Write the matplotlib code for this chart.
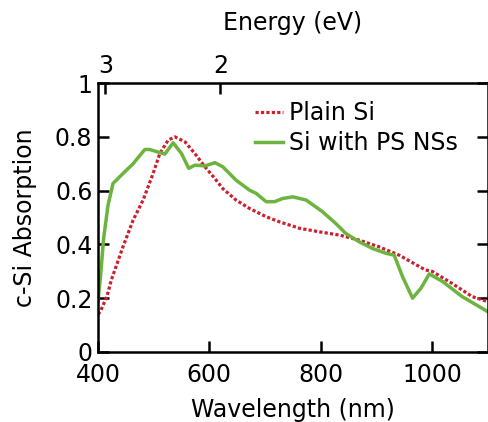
#c-Si absorption, plain vs with PS nanostructures
import numpy as np
import matplotlib.pyplot as plt

#data
wl_plain = [400, 404, 416, 424, 445, 463, 481, 499, 511, 526, 538, 556, 574, 592, 610, 624, 648,
            672, 702, 726, 762, 797, 833, 869, 905, 941, 988, 1000, 1036, 1072, 1100]
abs_plain = [0.14, 0.15, 0.206, 0.268, 0.392, 0.49, 0.565, 0.664, 0.738, 0.788, 0.80, 0.782, 0.738,
             0.689, 0.645, 0.608, 0.565, 0.534, 0.503, 0.484, 0.46, 0.447, 0.435, 0.416, 0.391,
             0.36, 0.305, 0.30, 0.255, 0.206, 0.187]

wl_ps = [400, 404, 410, 418, 427, 445, 463, 484, 493, 520, 535, 550, 563, 574, 592, 610, 624, 648,
         672, 684, 702, 717, 732, 750, 774, 803, 827, 845, 869, 893, 917, 932, 947, 965, 980,
         995, 1019, 1054, 1100]
abs_ps = [0.19, 0.268, 0.42, 0.546, 0.627, 0.664, 0.70, 0.753, 0.753, 0.736, 0.778, 0.738, 0.683,
          0.695, 0.692, 0.704, 0.689, 0.639, 0.602, 0.59, 0.559, 0.559, 0.571, 0.577, 0.565,
          0.522, 0.478, 0.441, 0.41, 0.385, 0.367, 0.36, 0.28, 0.2, 0.237, 0.29, 0.262, 0.206, 0.15]

x_ticks = [400, 600, 800, 1000]
y_ticks = [0, 0.2, 0.4, 0.6, 0.8, 1]
y_labels = ['0', '0.2', '0.4', '0.6', '0.8', '1']
ev_ticks = [3, 2]

plt.rcParams['font.family'] = 'DejaVu Sans'
plt.rcParams['font.size'] = 17

fig = plt.figure(figsize=(4.89, 4.22), dpi=100)
ax = fig.add_axes([0.2004, 0.166, 0.797, 0.637])

ax.plot(wl_plain, abs_plain, color='#cc1f2b', linestyle=(0, (1, 0.7)), linewidth=2.3, label='Plain Si')
ax.plot(wl_ps, abs_ps, color='#6db33f', linewidth=2.5, label='Si with PS NSs')

ax.set_xlim(400, 1100)
ax.set_ylim(0, 1)
ax.set_xticks(x_ticks)
ax.set_yticks(y_ticks)
ax.set_yticklabels(y_labels)
ax.set_xlabel('Wavelength (nm)', labelpad=8)
ax.set_ylabel('c-Si Absorption', labelpad=13)

ax.tick_params(axis='x', direction='in', length=8, width=1.8, pad=8)
ax.tick_params(axis='y', direction='in', length=8, width=1.8, right=True, pad=4)
for s in ax.spines.values():
    s.set_linewidth(1.8)

#energy axis on top
top = ax.secondary_xaxis('top', functions=(lambda x: 1240 / np.asarray(x, dtype=float),
                                           lambda e: 1240 / np.asarray(e, dtype=float)))
top.set_xticks(ev_ticks)
top.set_xticklabels([str(e) for e in ev_ticks])
top.tick_params(direction='in', length=8, width=1.8, pad=4)
top.set_xlabel('Energy (eV)', labelpad=17)

ax.legend(loc='upper left', frameon=False, handlelength=1.2, handletextpad=0.25,
          labelspacing=0.25, bbox_to_anchor=(0.378, 0.968), borderaxespad=0)

fig.savefig('out.png', dpi=100)
